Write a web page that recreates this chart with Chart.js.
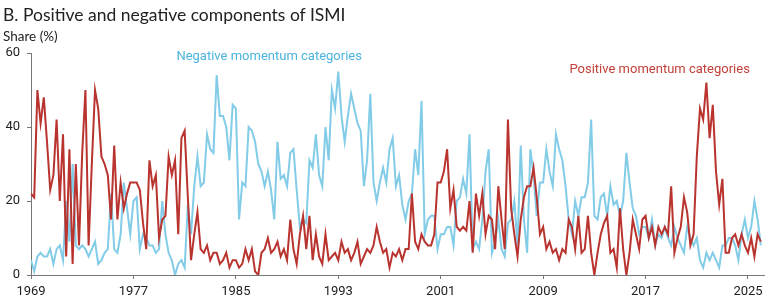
<!DOCTYPE html>
<html>
<head>
<meta charset="utf-8">
<title>Positive and negative components of ISMI</title>
<script src="https://cdn.jsdelivr.net/npm/chart.js@4.4.1/dist/chart.umd.min.js"></script>
<style>
  html, body { margin: 0; padding: 0; background: #fff; }
  #wrap { position: relative; width: 768px; height: 303px; }
  #title { position: absolute; left: 3px; top: 4px; font: 17.5px Lato, "Open Sans", sans-serif; color: #222; white-space: nowrap; }
  #unit { position: absolute; left: 3px; top: 28px; font: 13.5px Lato, "Open Sans", sans-serif; color: #222; white-space: nowrap; }
  canvas { position: absolute; left: 0; top: 0; }
</style>
</head>
<body>
<div id="wrap">
  <canvas id="ismiChart" width="768" height="303"></canvas>
  <div id="title">B. Positive and negative components of ISMI</div>
  <div id="unit">Share (%)</div>
</div>
<script>
// quarterly readings, first point is 1969 Q1
var startYear = 1969;
var stepsPerYear = 4;
var tickYears = [1969, 1977, 1985, 1993, 2001, 2009, 2017, 2025];
var yTicks = [0, 20, 40, 60];

var negativeShare = [
  4, 1, 5, 6,  5, 5, 7, 3,  7, 8, 4, 20,  9, 30, 8, 7,
  8, 7, 5, 7,  9, 3, 4, 6,  7, 22, 7, 6,  11, 25, 18, 11,
  20, 21, 7, 11,  10, 8, 8, 6,  7, 20, 11, 6,  4, 0, 3, 4,
  2, 19, 11, 24,  32, 24, 25, 38,  34, 33, 54, 43,  43, 40, 31, 46,
  45, 15, 25, 24,  40, 39, 36, 30,  28, 24, 28, 23,  15, 36, 26, 27,
  24, 33, 34, 23,  13, 15, 14, 31,  29, 38, 27, 24,  40, 31, 50, 45,
  55, 43, 36, 43,  49, 45, 41, 39,  24, 31, 49, 25,  20, 25, 29, 25,
  34, 37, 24, 27,  19, 15, 20, 22,  34, 27, 47, 11,  15, 16, 16, 7,
  11, 11, 13, 13,  8, 20, 21, 26,  22, 38, 7, 9,  7, 15, 28, 34,
  6, 9, 15, 7,  5, 14, 15, 20,  8, 35, 15, 6,  34, 27, 16, 25,
  25, 34, 28, 24,  38, 34, 31, 24,  15, 11, 20, 16,  21, 21, 25, 42,
  16, 15, 21, 22,  16, 24, 19, 20,  16, 20, 33, 25,  18, 16, 11, 13,
  13, 10, 15, 8,  11, 10, 13, 10,  8, 13, 10, 8,  6, 13, 10, 8,
  10, 4, 2, 6,  4, 6, 4, 2,  8, 8, 10, 10,  8, 4, 11, 15,
  10, 13, 20, 15,  8
];

var positiveShare = [
  22, 21, 50, 41,  48, 36, 23, 27,  42, 20, 38, 5,  34, 3, 30, 8,
  33, 50, 8, 30,  50, 45, 32, 30,  27, 15, 35, 15,  25, 18, 22, 25,
  25, 25, 23, 14,  7, 31, 24, 27,  10, 15, 16, 32,  27, 31, 11, 37,
  39, 21, 4, 11,  17, 7, 6, 8,  4, 6, 6, 3,  4, 6, 2, 4,
  4, 2, 3, 7,  4, 7, 1, 0,  6, 7, 10, 6,  7, 9, 5, 7,
  4, 15, 7, 3,  11, 16, 7, 16,  4, 11, 5, 3,  11, 4, 5, 6,
  4, 9, 6, 7,  4, 6, 9, 3,  5, 7, 6, 8,  13, 9, 6, 7,
  2, 6, 5, 7,  4, 7, 7, 22,  9, 7, 11, 9,  8, 8, 11, 25,
  25, 28, 34, 18,  23, 13, 12, 13,  12, 20, 6, 22,  16, 22, 11, 16,
  15, 7, 24, 15,  7, 42, 18, 11,  5, 15, 21, 24,  24, 29, 21, 11,
  13, 7, 9, 6,  7, 4, 7, 6,  15, 13, 7, 16,  6, 7, 16, 6,
  0, 6, 11, 14,  16, 6, 7, 2,  18, 7, 0, 6,  15, 11, 7, 15,
  16, 10, 13, 8,  13, 11, 13, 11,  24, 6, 10, 13,  21, 17, 8, 11,
  32, 45, 42, 52,  37, 46, 28, 19,  26, 6, 6, 10,  11, 8, 11, 8,
  6, 10, 5, 11,  9
];

function toPoints(values) {
  return values.map(function (v, i) {
    return { x: startYear + i / stepsPerYear, y: v };
  });
}

var tickFont = { family: "'Liberation Sans Narrow', Roboto, sans-serif", size: 13 };

// series names written next to the lines
var seriesLabelPlugin = {
  id: "seriesLabels",
  afterDatasetsDraw: function (chart) {
    var ctx = chart.ctx;
    var xs = chart.scales.x;
    var ys = chart.scales.y;
    ctx.save();
    ctx.font = "13px Roboto, sans-serif";
    ctx.textAlign = "center";
    ctx.textBaseline = "middle";
    ctx.fillStyle = "#4cb4de";
    ctx.fillText("Negative momentum categories", xs.getPixelForValue(1987.6), ys.getPixelForValue(59));
    ctx.fillStyle = "#c2403a";
    ctx.fillText("Positive momentum categories", xs.getPixelForValue(2018.1), ys.getPixelForValue(55.4));
    ctx.restore();
  },
};

var ctx = document.getElementById("ismiChart").getContext("2d");
var ismiChart = new Chart(ctx, {
  type: "line",
  data: {
    datasets: [
      {
        label: "Positive momentum categories",
        data: toPoints(positiveShare),
        borderColor: "#b9332f",
        borderWidth: 2,
        pointRadius: 0,
        tension: 0,
      },
      {
        label: "Negative momentum categories",
        data: toPoints(negativeShare),
        borderColor: "#82cce8",
        borderWidth: 2,
        pointRadius: 0,
        tension: 0,
      },
    ],
  },
  options: {
    responsive: false,
    animation: false,
    layout: { padding: { top: 53, right: 4, left: 0, bottom: 0 } },
    plugins: {
      legend: { display: false },
      tooltip: { enabled: false },
    },
    scales: {
      x: {
        type: "linear",
        min: 1969,
        max: 2026.25,
        afterBuildTicks: function (scale) {
          scale.ticks = tickYears.map(function (v) { return { value: v }; });
        },
        afterFit: function (scale) { scale.height = 28; },
        ticks: {
          font: tickFont,
          color: "#222",
          padding: 5,
          maxRotation: 0,
          autoSkip: false,
          callback: function (v) { return String(v); },
        },
        grid: { drawOnChartArea: false, drawTicks: true, tickLength: 4, color: "#777" },
        border: { color: "#777", width: 1 },
      },
      y: {
        min: 0,
        max: 60,
        afterBuildTicks: function (scale) {
          scale.ticks = yTicks.map(function (v) { return { value: v }; });
        },
        afterFit: function (scale) { scale.width = 31; },
        ticks: {
          font: tickFont,
          color: "#222",
          padding: 7,
          callback: function (v) { return String(v); },
        },
        grid: { drawOnChartArea: false, drawTicks: true, tickLength: 4, color: "#777" },
        border: { color: "#777", width: 1 },
      },
    },
  },
  plugins: [seriesLabelPlugin],
});
</script>
</body>
</html>
